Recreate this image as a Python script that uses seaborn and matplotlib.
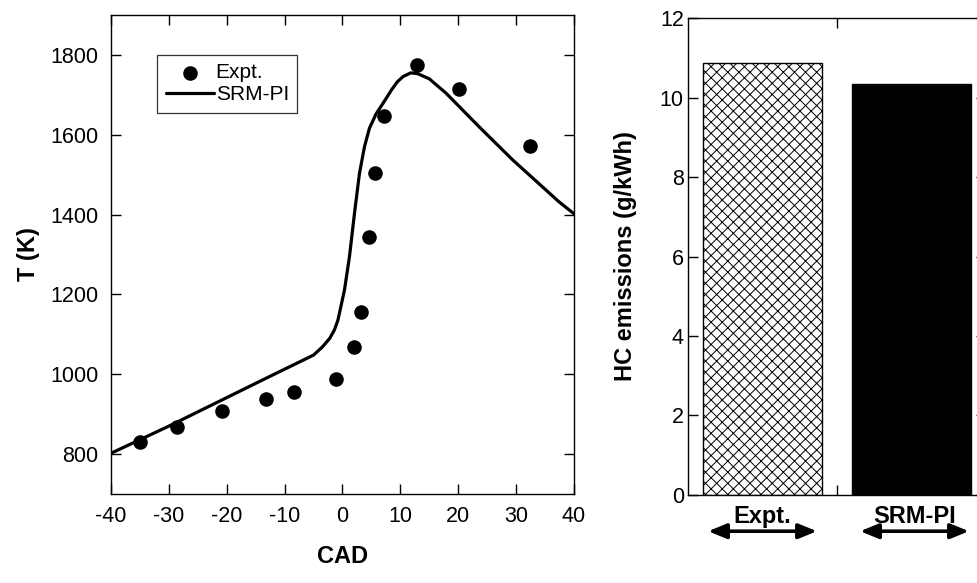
import matplotlib
matplotlib.use("Agg")
import matplotlib.pyplot as plt
import matplotlib.transforms as mtransforms
import seaborn as sns
import pandas as pd

# Measured in-cylinder temperature
expt_cad = [-35.0, -28.6, -20.9, -13.3, -8.3, -1.2, 2.0, 3.2, 4.5, 5.6, 7.1, 12.9, 20.2, 32.4]
expt_temp = [831, 868, 909, 938, 955, 988, 1069, 1157, 1345, 1503, 1647, 1775, 1714, 1572]

# SRM-PI simulated temperature trace
srm_cad = [-40, -30, -20.9, -13.2, -7.4, -5.0, -3.5, -2.2, -1.4, -0.8, -0.3, 0.34,
           1.2, 2.07, 2.93, 3.8, 4.65, 5.8, 7.5, 8.5, 9.5, 10.5, 11.8, 13.0,
           15.0, 17.9, 23.6, 29.4, 33.9, 37.4, 40]
srm_temp = [802, 870, 935, 990, 1031, 1048, 1068, 1090, 1111, 1135, 1168, 1211,
            1294, 1403, 1503, 1570, 1616, 1652, 1690, 1713, 1733, 1746, 1755, 1753,
            1740, 1704, 1620, 1537, 1478, 1432, 1402]

# HC emissions
hc_cases = ["Expt.", "SRM-PI"]
hc_values = [10.86, 10.33]

sns.set_style("ticks")
plt.rcParams["font.family"] = ["Liberation Sans", "DejaVu Sans"]
plt.rcParams.update({
    "axes.linewidth": 1.0,
    "axes.unicode_minus": False,
    "hatch.linewidth": 0.7,
    "text.color": "black",
    "axes.labelcolor": "black",
    "xtick.color": "black",
    "ytick.color": "black",
    "axes.edgecolor": "black",
})

fig = plt.figure(figsize=(9.78, 5.83), dpi=100)

# ---- temperature panel ----
ax1 = fig.add_axes([0.1135, 0.1527, 0.4734, 0.8216])
sns.lineplot(x=srm_cad, y=srm_temp, ax=ax1, color="black", linewidth=2.3,
             label="SRM-PI", sort=False, zorder=2)
sns.scatterplot(x=expt_cad, y=expt_temp, ax=ax1, color="black", s=110,
                edgecolor="black", linewidth=0, label="Expt.", zorder=3)
ax1.set_xlim(-40, 40)
ax1.set_ylim(700, 1900)
ax1.set_xticks(range(-40, 41, 10))
ax1.set_yticks(range(800, 1801, 200))
ax1.tick_params(direction="in", length=7, width=1, labelsize=15.5, pad=9,
                top=True, right=True)
ax1.set_xlabel("CAD", fontsize=17, fontweight="bold")
ax1.set_ylabel("T (K)", fontsize=17, fontweight="bold")
ax1.xaxis.set_label_coords(0.5, -0.106)
ax1.yaxis.set_label_coords(-0.153, 0.5)

handles, labels = ax1.get_legend_handles_labels()
order = [labels.index("Expt."), labels.index("SRM-PI")]
leg = ax1.legend([handles[i] for i in order], [labels[i] for i in order],
                 loc="upper left", bbox_to_anchor=(0.10, 0.917), fontsize=15,
                 frameon=True, fancybox=False, edgecolor="black",
                 handlelength=2.3, handletextpad=0.1, borderpad=0.4,
                 labelspacing=0.15, borderaxespad=0)
leg.get_frame().set_linewidth(0.9)

# ---- HC emissions panel ----
ax2 = fig.add_axes([0.7035, 0.151, 0.3047, 0.818])
df = pd.DataFrame({"case": hc_cases, "hc": hc_values})
sns.barplot(data=df, x="case", y="hc", ax=ax2, color="black", width=0.8,
            edgecolor="black", linewidth=1.0, saturation=1)
bars = ax2.patches
bars[0].set_facecolor("white")
bars[0].set_hatch("xxx")
bars[0].set_edgecolor("black")
bars[1].set_facecolor("black")

ax2.set_xlim(-0.5, 1.5)
ax2.set_ylim(0, 12)
ax2.set_yticks(range(0, 13, 2))
ax2.set_xticks([0.5])
ax2.set_xticklabels([])
ax2.tick_params(direction="in", length=7, width=1, labelsize=15.5, pad=3,
                top=True, right=True)
ax2.set_xlabel("")
ax2.set_ylabel("HC emissions (g/kWh)", fontsize=17, fontweight="bold")
ax2.yaxis.set_label_coords(-0.171, 0.5)

# category labels with double-headed arrows under the bars
trans = mtransforms.blended_transform_factory(ax2.transData, ax2.transAxes)
for i, name in enumerate(hc_cases):
    cx = i + (0.02 * i)
    ax2.text(cx, -0.045, name, transform=trans, ha="center", va="center",
             fontsize=17, fontweight="bold", clip_on=False)
    ax2.annotate("", xy=(cx - 0.365, -0.076), xytext=(cx + 0.365, -0.076),
                 xycoords=trans, textcoords=trans,
                 arrowprops=dict(arrowstyle="<|-|>,head_length=1.1,head_width=0.45",
                                 color="black", lw=2.6, shrinkA=0, shrinkB=0),
                 annotation_clip=False)

fig.savefig("out.png", dpi=100)
